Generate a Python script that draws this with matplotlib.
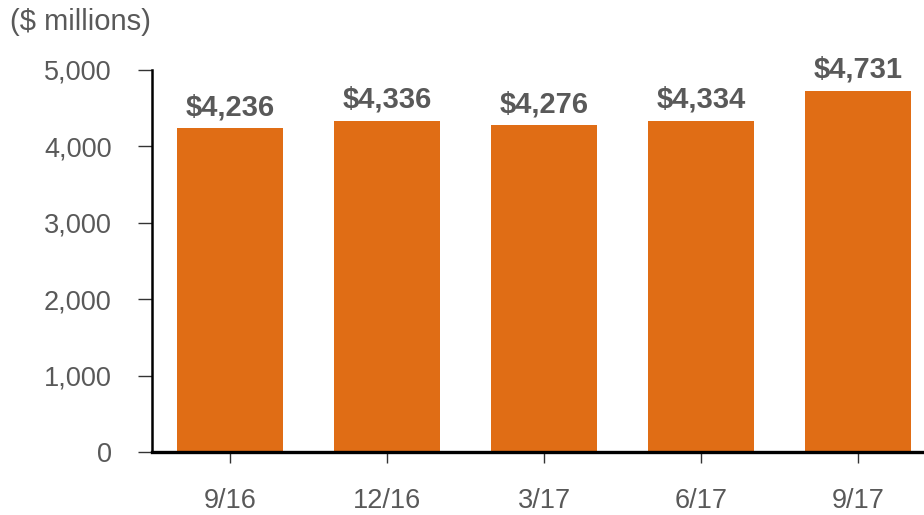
import matplotlib.pyplot as plt

# quarter-end balances, $ millions
quarters = ['9/16', '12/16', '3/17', '6/17', '9/17']
values = [4236, 4336, 4276, 4334, 4731]

bar_color = '#E06D15'
text_color = '#595959'

plt.rcParams['font.family'] = ['Liberation Sans', 'DejaVu Sans']

fig = plt.figure(figsize=(9.24, 5.15), dpi=100)
ax = fig.add_axes([152 / 924, 63 / 515, 1 - 152 / 924, 382 / 515])

x = range(len(quarters))
bars = ax.bar(x, values, width=0.675, color=bar_color, zorder=2)

for rect, v in zip(bars, values):
    ax.annotate(f'${v:,}', (rect.get_x() + rect.get_width() / 2, v),
                xytext=(0, 5), textcoords='offset points',
                ha='center', va='bottom', fontsize=21, fontweight='bold',
                color=text_color)

ax.set_xlim(-0.5, 4.42)
ax.set_ylim(0, 5000)
ax.set_yticks([0, 1000, 2000, 3000, 4000, 5000])
ax.set_yticklabels([f'{t:,}' for t in [0, 1000, 2000, 3000, 4000, 5000]])
ax.set_xticks(list(x))
ax.set_xticklabels(quarters)

ax.tick_params(axis='y', direction='out', length=10, width=1, color='#333333',
               labelsize=19.5, labelcolor=text_color, pad=19)
ax.tick_params(axis='x', direction='out', length=8, width=1, color='#333333',
               labelsize=19.5, labelcolor=text_color, pad=18)

for side in ['top', 'right']:
    ax.spines[side].set_visible(False)
ax.spines['left'].set_linewidth(1.8)
ax.spines['bottom'].set_linewidth(2.4)
ax.spines['left'].set_color('black')
ax.spines['bottom'].set_color('black')

fig.text(10 / 924, 1 - 22 / 515, '($ millions)', fontsize=21, color=text_color,
         ha='left', va='center')

fig.savefig('out.png', dpi=100)
